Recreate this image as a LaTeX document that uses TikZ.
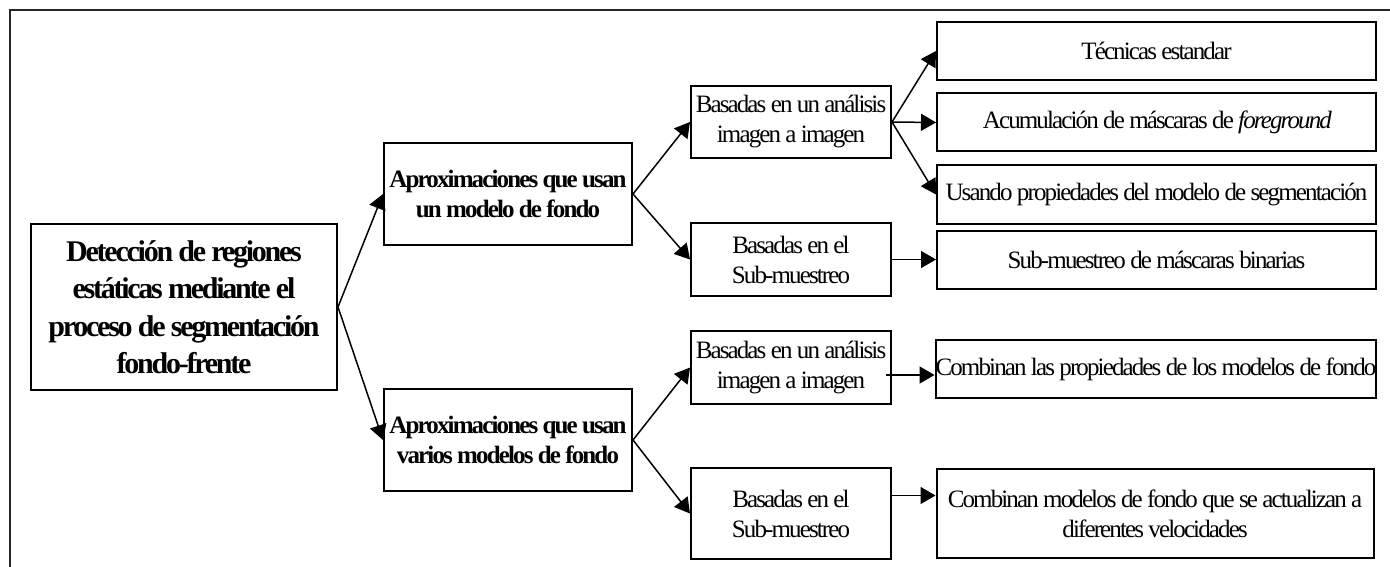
\documentclass[tikz,border=0pt]{standalone}
\usepackage{fontspec}
\setmainfont{Liberation Serif}[LetterSpace=-7.5]
\usetikzlibrary{arrows.meta}

\begin{document}
\begin{tikzpicture}[x=1pt,y=-1pt,
	>={Triangle[length=15pt,width=17pt]},
	link/.style={->,line width=1.5pt},
	every node/.style={draw,line width=2pt,inner sep=0pt,align=center,font=\fontsize{25}{30}\selectfont},
	rootbox/.style={minimum width=306pt,minimum height=166pt,font=\fontsize{30}{37.5}\selectfont\bfseries},
	approxbox/.style={minimum width=248pt,minimum height=102pt,font=\fontsize{25}{30}\selectfont\bfseries},
	basebox/.style={minimum width=200pt,minimum height=73pt},
	leafbox/.style={minimum width=439pt,minimum height=58pt}]
	\useasboundingbox (0,0) rectangle (1390,567);
	\draw[line width=2pt,black!85] (10,567) -- (10,10) -- (1390,10);

	\node[rootbox] at (184,307) (root) {Detección de regiones\\estáticas mediante el\\proceso de segmentación\\fondo-frente};

	\node[approxbox] at (508,194) (one) {Aproximaciones que usan\\un modelo de fondo};
	\node[approxbox] at (508,440) (many) {Aproximaciones que usan\\varios modelos de fondo};

	\node[basebox,minimum height=72pt] at (791,122) (oneframe) {Basadas en un análisis\\imagen a imagen};
	\node[basebox] at (791,259.5) (onesub) {Basadas en el\\Sub-muestreo};
	\node[basebox] at (791,367.5) (manyframe) {Basadas en un análisis\\imagen a imagen};
	\node[basebox,minimum height=91.5pt] at (791,513.5) (manysub) {Basadas en el\\Sub-muestreo};

	\node[leafbox] at (1156.5,51) (std) {Técnicas estandar};
	\node[leafbox] at (1156.5,122.5) (acc) {Acumulación de máscaras de \textit{foreground}};
	\node[leafbox] at (1156.5,194.5) (prop) {Usando propiedades del modelo de segmentación};
	\node[leafbox] at (1156.5,259.5) (bin) {Sub-muestreo de máscaras binarias};
	\node[leafbox,minimum width=438pt] at (1156,369) (comb) {Combinan las propiedades de los modelos de fondo};
	\node[leafbox,minimum width=437pt,minimum height=89pt] at (1155,513.8) (speed) {Combinan modelos de fondo que se actualizan a\\diferentes velocidades};

	\coordinate (manyframeout) at ([shift={(-6,7.5)}]manyframe.east);
	\coordinate (manysubout) at ([shift={(0,-18)}]manysub.east);

	\draw[link] (root.east) to (one.west);
	\draw[link] (root.east) to (many.west);
	\draw[link] (one.east) to (oneframe.west);
	\draw[link] (one.east) to (onesub.west);
	\draw[link] (many.east) to (manyframe.west);
	\draw[link] (many.east) to (manysub.west);
	\draw[link] (oneframe.east) to (std.west);
	\draw[link] (oneframe.east) to (acc.west);
	\draw[link] (oneframe.east) to (prop.west);
	\draw[link] (onesub.east) to (bin.west);
	\draw[link] (manyframeout) to (manyframeout -| comb.west);
	\draw[link] (manysubout) to (manysubout -| speed.west);
\end{tikzpicture}
\end{document}
